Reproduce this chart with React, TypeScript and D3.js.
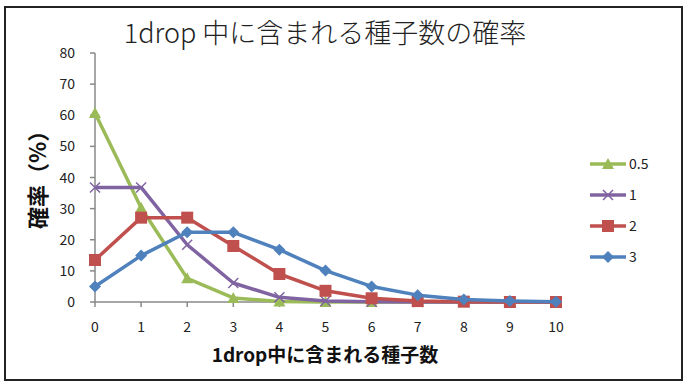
import React from 'react';
import * as d3 from 'd3';

// number of seeds per drop (x categories)
const seedCounts = [0, 1, 2, 3, 4, 5, 6, 7, 8, 9, 10];
const yTicks = [0, 10, 20, 30, 40, 50, 60, 70, 80];

// probability (%), one list per mean value
const series05 = [60.7, 30.3, 7.6, 1.3, 0.2, 0, 0, 0, 0, 0, 0];
const series1 = [36.8, 36.8, 18.4, 6.1, 1.5, 0.3, 0.1, 0, 0, 0, 0];
const series2 = [13.5, 27.1, 27.1, 18.0, 9.0, 3.6, 1.2, 0.3, 0.1, 0, 0];
const series3 = [5.0, 14.9, 22.4, 22.4, 16.8, 10.1, 5.0, 2.2, 0.8, 0.3, 0.1];

const seriesNames = ['0.5', '1', '2', '3'];
const seriesColors = ['#9BBB59', '#8064A2', '#C0504D', '#4F81BD'];
const seriesMarkers = ['triangle', 'x', 'square', 'diamond'];

const W = 690, H = 388;
const margin = { left: 95, right: 134, top: 53, bottom: 86 };
const font = '"Noto Sans CJK JP", "Noto Sans", sans-serif';

function Marker({ type, x, y, color }: { type: string; x: number; y: number; color: string }) {
  if (type === 'triangle') {
    return <path d={`M${x},${y - 6}L${x + 6},${y + 5}L${x - 6},${y + 5}Z`} fill={color} />;
  }
  if (type === 'x') {
    return <path d={`M${x - 5},${y - 5}L${x + 5},${y + 5}M${x - 5},${y + 5}L${x + 5},${y - 5}`} stroke={color} strokeWidth={1.5} />;
  }
  if (type === 'square') {
    return <rect x={x - 6} y={y - 6} width={12} height={12} fill={color} />;
  }
  return <path d={`M${x},${y - 6}L${x + 6},${y}L${x},${y + 6}L${x - 6},${y}Z`} fill={color} />;
}

export default function App() {
  const data = [series05, series1, series2, series3];
  const x = d3.scaleLinear().domain([0, 10]).range([margin.left, W - margin.right]);
  const y = d3.scaleLinear().domain([0, 80]).range([H - margin.bottom, margin.top]);
  const line = d3.line<number>().x((_, i) => x(seedCounts[i])).y(d => y(d));

  return (
    <svg width={W} height={H} style={{ position: 'absolute', left: 0, top: 0, background: '#fff' }}>
      <rect x={5} y={7} width={677} height={373} fill="#fff" stroke="#222" strokeWidth={2} />

      <text x={325} y={43} textAnchor="middle" fontFamily={font} fontWeight={300} fontSize={27} fill="#222">
        1drop 中に含まれる種子数の確率
      </text>

      {/* y axis */}
      <line x1={margin.left} x2={margin.left} y1={y(80)} y2={y(0)} stroke="#888" strokeWidth={1.5} />
      {yTicks.map(t => (
        <g key={t}>
          <line x1={margin.left - 5} x2={margin.left} y1={y(t)} y2={y(t)} stroke="#888" strokeWidth={1.5} />
          <text x={margin.left - 20} y={y(t) + 5} textAnchor="end" fontFamily={font} fontSize={14} fill="#222">{t}</text>
        </g>
      ))}

      {/* x axis */}
      <line x1={x(0)} x2={x(10)} y1={y(0)} y2={y(0)} stroke="#888" strokeWidth={1.5} />
      {seedCounts.map(c => (
        <g key={c}>
          <line x1={x(c)} x2={x(c)} y1={y(0)} y2={y(0) + 5} stroke="#888" strokeWidth={1.5} />
          <text x={x(c)} y={y(0) + 30} textAnchor="middle" fontFamily={font} fontSize={14} fill="#222">{c}</text>
        </g>
      ))}

      <text x={325} y={362} textAnchor="middle" fontFamily={font} fontWeight={700} fontSize={19} fill="#111">
        1drop中に含まれる種子数
      </text>
      <text transform={`translate(46,${y(41)}) rotate(-90)`} textAnchor="middle" fontFamily={font} fontWeight={700} fontSize={22} fill="#111">
        確率（%）
      </text>

      {data.map((vals, si) => (
        <g key={si}>
          <path d={line(vals) || ''} fill="none" stroke={seriesColors[si]} strokeWidth={3.5} strokeLinejoin="round" />
          {vals.map((v, i) => (
            <Marker key={i} type={seriesMarkers[si]} x={x(seedCounts[i])} y={y(v)} color={seriesColors[si]} />
          ))}
        </g>
      ))}

      {/* legend */}
      {seriesNames.map((n, i) => {
        const ly = 164 + i * 31;
        return (
          <g key={n}>
            <line x1={590} x2={626} y1={ly} y2={ly} stroke={seriesColors[i]} strokeWidth={3.5} />
            <Marker type={seriesMarkers[i]} x={608} y={ly} color={seriesColors[i]} />
            <text x={629} y={ly + 5} fontFamily={font} fontSize={14} fill="#222">{n}</text>
          </g>
        );
      })}
    </svg>
  );
}
